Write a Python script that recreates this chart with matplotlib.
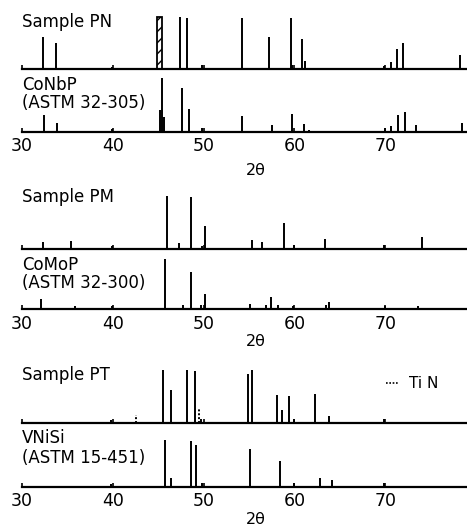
import matplotlib
matplotlib.use("Agg")
import matplotlib.pyplot as plt

# peak positions (2 theta) and heights (relative)
pn_pos = [32.3, 33.7, 39.9, 47.4, 48.2, 49.8, 54.25, 57.2, 59.6, 59.75, 60.85, 61.2,
          69.9, 70.6, 71.25, 72.0, 78.25]
pn_int = [32, 26, 2, 52, 51, 4, 51, 32, 51, 4, 30, 8, 3, 7, 20, 26, 14]
pn_hatch_pos = 45.15
pn_hatch_int = 52

conbp_pos = [32.45, 33.9, 39.9, 45.2, 45.4, 45.6, 47.65, 48.4, 49.8, 54.25, 57.5, 59.75,
             61.1, 61.65, 70.0, 70.6, 71.35, 72.15, 73.4, 78.5]
conbp_int = [17, 9, 3, 22, 54, 15, 44, 23, 4, 16, 7, 18, 8, 2, 4, 5.5, 17, 20, 7, 9]

pm_pos = [32.3, 35.35, 39.9, 46.0, 47.3, 48.6, 49.8, 50.2, 55.35, 56.45, 58.8, 60.0,
          63.4, 69.9, 74.1]
pm_int = [7, 8, 3, 53, 6, 52, 3, 23, 9, 7, 26, 4, 10, 4, 12]

comop_pos = [32.05, 35.8, 39.9, 45.7, 47.7, 48.6, 49.75, 50.2, 55.1, 56.9, 57.45, 58.2,
             59.8, 63.5, 63.85, 70.0, 73.55]
comop_int = [10, 3, 3, 50, 4, 37, 4, 15, 5, 4, 12, 4, 3, 4, 7, 3, 3]

pt_pos = [39.8, 45.5, 46.4, 48.2, 49.0, 49.75, 54.9, 55.35, 58.05, 58.65, 59.4, 59.9,
          62.3, 63.75, 69.9]
pt_int = [3, 53, 33, 53, 52, 4, 49, 53, 28, 13, 27, 4, 29, 7, 4]
tin_pos = [42.5, 49.45]
tin_int = [8, 14]

vnisi_pos = [39.8, 45.7, 46.45, 48.6, 49.2, 49.8, 55.15, 58.45, 59.9, 62.8, 64.1, 69.9]
vnisi_int = [3, 47, 9, 46, 42, 4, 38, 26, 4, 9, 7, 4]

ticks = [30, 40, 50, 60, 70]

W, H = 467, 527
fig = plt.figure(figsize=(W / 100, H / 100), dpi=100)
plt.rcParams['font.family'] = ['DejaVu Sans']

x0 = 22
xmax = 79
ax_h = 56


def make_axes(base_y, labels):
    ax = fig.add_axes([x0 / W, 1 - base_y / H, (W - x0) / W, ax_h / H])
    ax.set_xlim(30, xmax)
    ax.set_ylim(0, ax_h)
    for s in ['top', 'right', 'left']:
        ax.spines[s].set_visible(False)
    ax.spines['bottom'].set_linewidth(1.6)
    ax.set_yticks([])
    ax.set_xticks(ticks)
    ax.tick_params(axis='x', direction='in', length=3, width=1.2,
                   labelbottom=labels, labelsize=12.5, pad=4)
    ax.patch.set_visible(False)
    return ax


def sticks(ax, pos, ints, style='-'):
    ax.vlines(pos, 0, ints, colors='black', linewidth=1.4, linestyles=style)


groups = [
    (69.3, 131.7, 'Sample PN', 47, ['CoNbP', '(ASTM 32-305)'], [46.7, 28.7],
     pn_pos, pn_int, conbp_pos, conbp_int, 170),
    (249, 309.3, 'Sample PM', 52, ['CoMoP', '(ASTM 32-300)'], [44.3, 26.6],
     pm_pos, pm_int, comop_pos, comop_int, 342),
    (423.3, 486.7, 'Sample PT', 48.3, ['VNiSi', '(ASTM 15-451)'], [48.4, 28.4],
     pt_pos, pt_int, vnisi_pos, vnisi_int, 520),
]

axes_top = []
for (yb1, yb2, name, name_y, ref, ref_y, p1, i1, p2, i2, lab_y) in groups:
    a1 = make_axes(yb1, False)
    a2 = make_axes(yb2, True)
    sticks(a1, p1, i1)
    sticks(a2, p2, i2)
    a1.text(30, name_y, name, fontsize=12, va='center', ha='left')
    for t, ty in zip(ref, ref_y):
        a2.text(30, ty, t, fontsize=12, va='center', ha='left')
    a2.text(55.8, yb2 - lab_y, '2θ', fontsize=11.5, va='center', ha='center')
    axes_top.append(a1)

# hatched peak in sample PN
axes_top[0].bar([pn_hatch_pos], [pn_hatch_int], width=0.6, color='white',
                edgecolor='black', hatch='///', linewidth=1.3)

# TiN peaks (dotted) in sample PT
sticks(axes_top[2], tin_pos, tin_int, style=(0, (1, 1)))
axes_top[2].plot([70.1, 71.5], [40, 40], color='black', linestyle=(0, (1, 1)),
                 linewidth=1.2)
axes_top[2].text(72.6, 40, 'Ti N', fontsize=11, va='center', ha='left')

fig.savefig('out.png', dpi=100)
